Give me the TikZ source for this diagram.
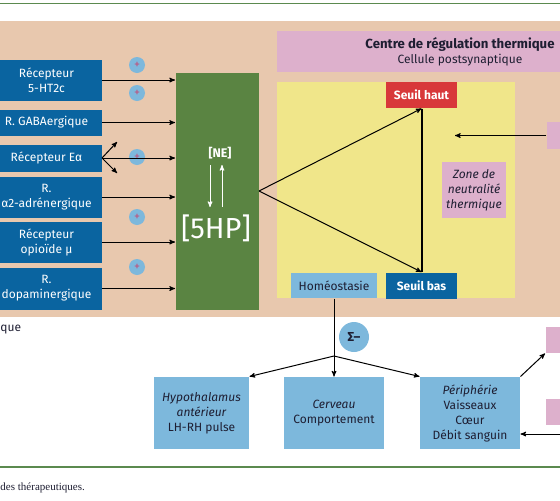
\documentclass[tikz,border=0pt]{standalone}
\usepackage{fontspec}
\setmainfont{Fira Sans}
\newfontfamily\capfont{Liberation Serif}
\usetikzlibrary{arrows,positioning}

\definecolor{peach}{HTML}{E8C8AE}
\definecolor{recblue}{HTML}{0A64A0}
\definecolor{hpgreen}{HTML}{5A8442}
\definecolor{zoneyellow}{HTML}{F0E68A}
\definecolor{regpink}{HTML}{DDB0CC}
\definecolor{seuilred}{HTML}{D8383A}
\definecolor{lightblue}{HTML}{7DB8DC}
\definecolor{plusred}{HTML}{C0507A}
\definecolor{inkdark}{HTML}{1E1E32}
\definecolor{rulegreen}{HTML}{5B8A4F}

\begin{document}
\begin{tikzpicture}[x=1pt,y=-1pt,>=stealth',line width=1pt,
    font=\fontsize{12}{15}\selectfont,text=inkdark,
    recbox/.style={fill=recblue,text=white,minimum width=110pt,inner sep=0pt,align=center,anchor=north west},
    plus/.style={circle,fill=lightblue,text=plusred,minimum size=16pt,inner sep=0pt,font=\fontsize{12}{12}\selectfont},
    lightbox/.style={fill=lightblue,inner sep=0pt,align=center},
    pinkbox/.style={fill=regpink,inner sep=0pt,align=center},
    seuil/.style={text=white,inner sep=0pt,font=\fontsize{12}{14}\selectfont\bfseries,minimum width=71pt,minimum height=26pt}]
    \useasboundingbox (0,0) rectangle (560,501);
    \clip (0,0) rectangle (560,501);

    % fonds
    \fill[peach] (-5,21) rectangle (565,317);
    \fill[regpink] (277,31) rectangle (565,72);
    \fill[zoneyellow] (277,82) rectangle (515,298);
    \draw[rulegreen,line width=1.5pt] (-5,3.5) -- (565,3.5);
    \draw[rulegreen,line width=1.2pt] (-5,467) -- (565,467);

    % recepteurs
    \node[recbox,minimum height=41pt] (r1) at (-9,59)  {Récepteur\\5-HT2c};
    \node[recbox,minimum height=26pt] (r2) at (-9,109) {R. GABAergique};
    \node[recbox,minimum height=27pt] (r3) at (-9,144) {Récepteur Eα};
    \node[recbox,minimum height=41pt] (r4) at (-9,176) {R.\\α2-adrénergique};
    \node[recbox,minimum height=41pt] (r5) at (-9,221) {Récepteur\\opioïde μ};
    \node[recbox,minimum height=42pt] (r6) at (-9,267) {R.\\dopaminergique};

    \node[plus] (p1) at (137,65)  {+};
    \node[plus] (p2) at (137,93)  {+};
    \node[plus] (p3) at (137,157) {+};
    \node[plus] (p4) at (137,217) {+};
    \node[plus] (p5) at (137,267) {+};

    % 5HP
    \node[fill=hpgreen,minimum width=83pt,minimum height=237pt,inner sep=0pt,anchor=north west] (nhp) at (175,72) {};
    \node[text=white,font=\fontsize{12.5}{13}\selectfont\bfseries] (ne) at (220,153) {[NE]};
    \node[text=white,font=\fontsize{29}{32}\selectfont] (shp) at (216,228) {[5HP]};
    \coordinate (ne1) at (210,165);
    \coordinate (ne2) at (210,207);
    \coordinate (ne3) at (222,207);
    \coordinate (ne4) at (222,165);
    \draw[white,->] (ne1) -- (ne2);
    \draw[white,->] (ne3) -- (ne4);

    \foreach \r in {r1,r2,r3,r4,r5,r6}
      \draw[->] (\r.east) -- (\r.east -| nhp.west);
    \coordinate (ea1) at (117,142);
    \coordinate (ea2) at (117,173);
    \draw[->] (r3.east) -- (ea1);
    \draw[->] (r3.east) -- (ea2);

    % centre de regulation
    \node[align=center] (centre) at (460,52)
      {{\fontsize{13.2}{15.5}\selectfont\bfseries Centre de régulation thermique}\\Cellule postsynaptique};
    \node[seuil,fill=seuilred] (haut) at (421.5,95) {Seuil haut};
    \node[seuil,fill=recblue] (bas) at (421.5,285.5) {Seuil bas};
    \node[lightbox,minimum width=86pt,minimum height=25pt] (homeo) at (334,285.5) {Homéostasie};
    \node[pinkbox,minimum width=64pt,minimum height=56pt,font=\fontsize{12}{15}\selectfont\itshape] (zone) at (474,190)
      {Zone de\\neutralité\\thermique};
    \draw[line width=2pt] (haut.south) -- (bas.north);
    \draw[->] (nhp.east) -- (haut.south);
    \draw[->] (nhp.east) -- (bas.north);

    \node[pinkbox,minimum width=20pt,minimum height=27pt,anchor=west] (ext1) at (546,135.5) {};
    \coordinate (ext1in) at (455,135.5);
    \draw[->] (ext1.west) -- (ext1in);

    % sorties
    \node[lightbox,minimum width=95pt,minimum height=72pt] (hypo) at (201.5,413)
      {\itshape Hypothalamus\\\itshape antérieur\\LH-RH pulse};
    \node[lightbox,minimum width=100pt,minimum height=72pt] (cerv) at (334,413)
      {\itshape Cerveau\\Comportement};
    \node[lightbox,minimum width=100pt,minimum height=72pt] (peri) at (470,413)
      {\itshape Périphérie\\Vaisseaux\\Cœur\\Débit sanguin};
    \node[circle,fill=lightblue,minimum size=30pt,inner sep=0pt,font=\fontsize{13}{13}\selectfont\bfseries] (sig) at (354,337) {Σ–};

    \coordinate (split) at (334,356);
    \draw (homeo.south) -- (split);
    \draw[->] (split) -- (hypo.north east);
    \draw[->] (split) -- (cerv.north);
    \draw[->] (split) -- (peri.north west);

    \node[pinkbox,minimum width=20pt,minimum height=26pt,anchor=west] (ext2) at (545,340) {};
    \node[pinkbox,minimum width=20pt,minimum height=26pt,anchor=west] (ext3) at (545,412) {};
    \coordinate (ext3out) at (562,434);
    \draw[->] (peri.north east) -- (ext2.south west);
    \draw[->] (ext3out) -- ([yshift=-21pt]peri.east);

    % legendes coupees
    \node[anchor=base west,inner sep=0pt] (leg1) at (0,331) {que};
    \node[anchor=base west,inner sep=0pt,font=\capfont\fontsize{11}{12}\selectfont] (leg2) at (0,490) {des thérapeutiques.};
\end{tikzpicture}
\end{document}
